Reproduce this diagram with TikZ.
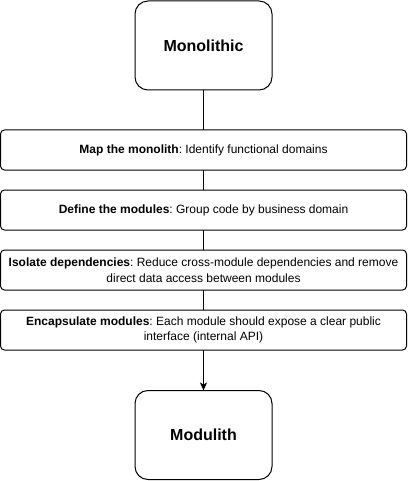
\documentclass[tikz,border=0pt]{standalone}
\usepackage{fontspec}
\setmainfont{Liberation Sans}
\usetikzlibrary{arrows.meta}
\frenchspacing
\newcommand{\figwidth}{407pt}
\newcommand{\figheight}{481pt}
\newcommand{\midx}{203.5pt}
\newcommand{\termwidth}{137pt}
\newcommand{\termheight}{89pt}
\newcommand{\stepwidth}{406pt}
\newcommand{\stepheight}{40pt}
\newcommand{\monopos}{-45.5pt}
\newcommand{\steponepos}{-150pt}
\newcommand{\steptwopos}{-210pt}
\newcommand{\stepthreepos}{-270pt}
\newcommand{\stepfourpos}{-330pt}
\newcommand{\modulithpos}{-435pt}

\begin{document}
\begin{tikzpicture}[]
\tikzstyle{termbox}=[draw,line width=1pt,rounded corners=13pt,minimum width=\termwidth,minimum height=\termheight,outer sep=0pt,font=\fontsize{16}{19}\selectfont\bfseries]
\tikzstyle{stepbox}=[draw,line width=1pt,rounded corners=4pt,minimum width=\stepwidth,minimum height=\stepheight,outer sep=0pt,align=center,font=\fontsize{12}{15.5}\selectfont]
\tikzstyle{link}=[line width=1pt]

%% page size
\useasboundingbox (0,0) rectangle (\figwidth,-\figheight);

%% start and end
\node(mono) [termbox] at (\midx,\monopos) {Monolithic};
\node(modulith) [termbox] at (\midx,\modulithpos) {Modulith};

%% four steps
\node(map) [stepbox] at (\midx,\steponepos) {\textbf{Map the monolith}: Identify functional domains};
\node(define) [stepbox] at (\midx,\steptwopos) {\textbf{Define the modules}: Group code by business domain};
\node(isolate) [stepbox] at (\midx,\stepthreepos) {\textbf{Isolate dependencies}: Reduce cross-module dependencies and remove\\direct data access between modules};
\node(encap) [stepbox] at (\midx,\stepfourpos) {\textbf{Encapsulate modules}: Each module should expose a clear public\\interface (internal API)};

%% connectors
\draw[link] (mono.south) -- (map.north);
\draw[link] (map.south) -- (define.north);
\draw[link] (define.south) -- (isolate.north);
\draw[link] (isolate.south) -- (encap.north);
\draw[link,-{Stealth[length=8pt,width=7pt,inset=2pt]}] (encap.south) -- (modulith.north);

\end{tikzpicture}
\end{document}
